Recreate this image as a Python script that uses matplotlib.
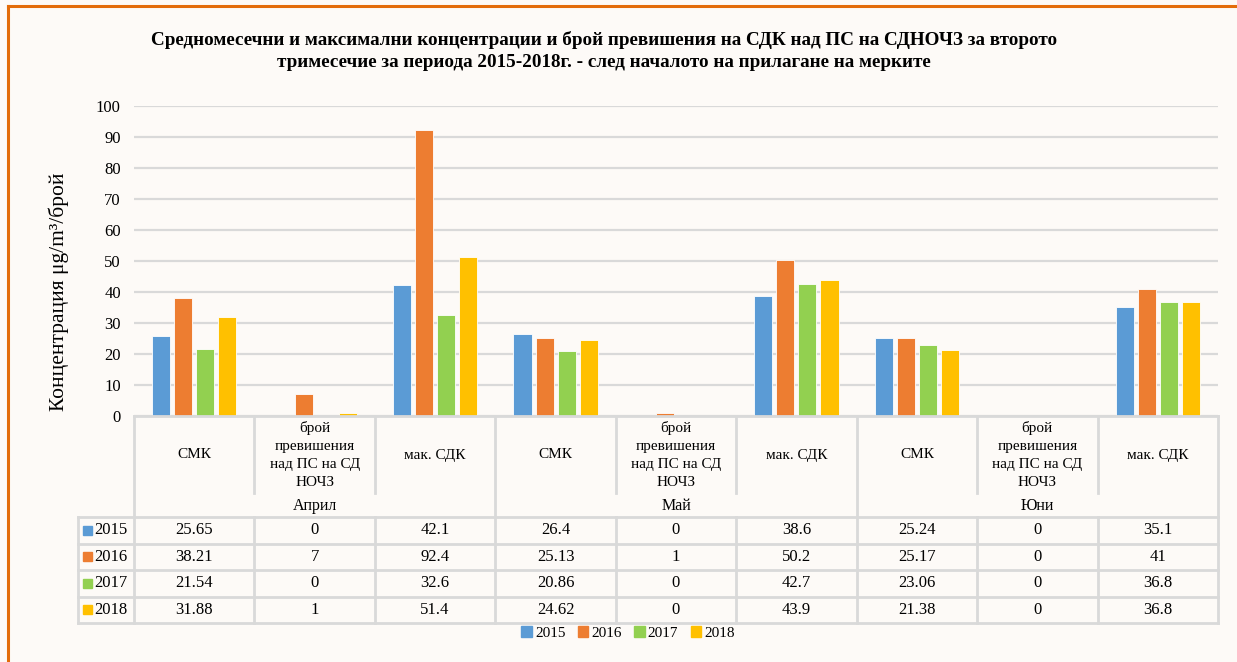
import numpy as np
import matplotlib
matplotlib.use('Agg')
import matplotlib.pyplot as plt
from matplotlib.patches import Patch

plt.rcParams['font.family'] = ['Liberation Serif', 'DejaVu Serif']

# --- data ---
months = ['Април', 'Май', 'Юни']
metrics = ['СМК', 'брой\nпревишения\nнад ПС на СД\nНОЧЗ', 'мак. СДК']
years = ['2015', '2016', '2017', '2018']
v2015 = [25.65, 0, 42.1, 26.4, 0, 38.6, 25.24, 0, 35.1]
v2016 = [38.21, 7, 92.4, 25.13, 1, 50.2, 25.17, 0, 41]
v2017 = [21.54, 0, 32.6, 20.86, 0, 42.7, 23.06, 0, 36.8]
v2018 = [31.88, 1, 51.4, 24.62, 0, 43.9, 21.38, 0, 36.8]
series = [v2015, v2016, v2017, v2018]
colors = ['#5B9BD5', '#ED7D31', '#92D050', '#FFC000']

title = ('Средномесечни и максимални концентрации и брой превишения на СДК над ПС на СДНОЧЗ за второто\n'
         'тримесечие за периода 2015-2018г. - след началото на прилагане на мерките')
ylabel = 'Концентрация μg/m³/брой'

W, H = 1237, 662
bg = '#FDFAF7'
grid_c = '#D9D9D9'

fig = plt.figure(figsize=(W / 100, H / 100), dpi=100, facecolor=bg)

# plot area in pixels
px_l, px_r, px_t, px_b = 134, 1218, 106, 416
ax = fig.add_axes([px_l / W, 1 - px_b / H, (px_r - px_l) / W, (px_b - px_t) / H])
ax.set_facecolor(bg)

n_cat = len(v2015)
x = np.arange(n_cat) + 0.5
step, width = 0.183, 0.15
for i, (vals, c) in enumerate(zip(series, colors)):
    ax.bar(x + (i - 1.5) * step, vals, width=width, color=c,
           edgecolor='white', linewidth=0.6, zorder=3)

ax.set_xlim(0, n_cat)
ax.set_ylim(0, 100)
ax.set_yticks(np.arange(0, 101, 10))
ax.set_xticks([])
ax.tick_params(axis='y', length=0, pad=9.5, labelsize=12)
ax.yaxis.grid(True, color=grid_c, linewidth=1.6, zorder=0)
for s in ax.spines.values():
    s.set_visible(False)
ax.set_ylabel(ylabel, fontsize=15.5)
ax.yaxis.set_label_coords((69 - px_l) / (px_r - px_l), (px_b - 292) / (px_b - px_t))

fig.text(604 / W, 1 - 51 / H, title, ha='center', va='center',
         fontsize=13.8, fontweight='bold', linespacing=1.33)

# --- data table (pixel-coordinate overlay) ---
tb = fig.add_axes([0, 0, 1, 1])
tb.set_xlim(0, W)
tb.set_ylim(H, 0)
tb.axis('off')
tb.patch.set_visible(False)

col_w = (px_r - px_l) / n_cat
cols = [px_l + i * col_w for i in range(n_cat + 1)]
key_l = 78
cat_bottom = 493
head_bottom = 517
row_h = 26.5
rows = [head_bottom + i * row_h for i in range(len(years) + 1)]
lw = 2.0

# horizontal lines
tb.plot([px_l, px_r], [px_b, px_b], color=grid_c, lw=lw)
for y in rows:
    tb.plot([key_l, px_r], [y, y], color=grid_c, lw=lw)
# vertical lines
tb.plot([key_l, key_l], [rows[0], rows[-1]], color=grid_c, lw=lw)
for i, xc in enumerate(cols):
    if i % 3 == 0:
        tb.plot([xc, xc], [px_b, rows[-1]], color=grid_c, lw=lw)
    else:
        tb.plot([xc, xc], [px_b, cat_bottom], color=grid_c, lw=lw)
        tb.plot([xc, xc], [rows[0], rows[-1]], color=grid_c, lw=lw)

# header labels
for i in range(n_cat):
    tb.text((cols[i] + cols[i + 1]) / 2, 455, metrics[i % 3], ha='center', va='center',
            fontsize=11, linespacing=1.5)
for m, name in enumerate(months):
    tb.text((cols[3 * m] + cols[3 * m + 3]) / 2, 506, name, ha='center', va='center', fontsize=11.5)

# rows
for r, (yr, vals, c) in enumerate(zip(years, series, colors)):
    yc = (rows[r] + rows[r + 1]) / 2
    tb.add_patch(plt.Rectangle((key_l + 5, yc - 4.5), 9, 9, color=c))
    tb.text(key_l + 16, yc, yr, ha='left', va='center', fontsize=12)
    for i, v in enumerate(vals):
        tb.text((cols[i] + cols[i + 1]) / 2, yc, f'{v:g}', ha='center', va='center', fontsize=12)

# legend
handles = [Patch(color=c, label=y) for c, y in zip(colors, years)]
fig.legend(handles=handles, loc='center', bbox_to_anchor=(628 / W, 1 - 633 / H), ncol=4,
           frameon=False, fontsize=11, handlelength=0.7, handleheight=0.7,
           handletextpad=0.2, columnspacing=0.8)

# orange border (left and top)
tb.plot([8, 8], [6, H], color='#E36C0A', lw=2.2, clip_on=False)
tb.plot([8, W], [6, 6], color='#E36C0A', lw=2.2, clip_on=False)

fig.savefig('out.png', dpi=100, facecolor=bg)
